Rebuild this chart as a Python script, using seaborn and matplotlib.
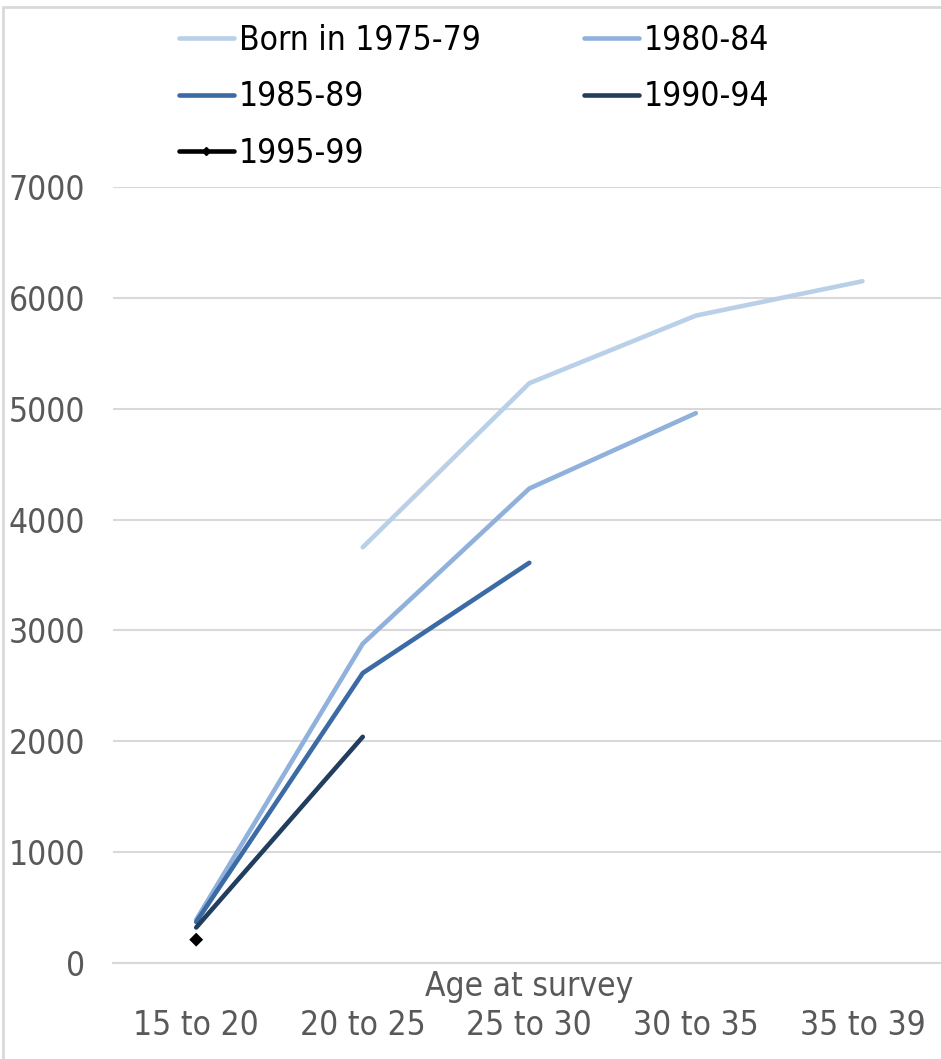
import matplotlib
matplotlib.use("Agg")
import matplotlib.pyplot as plt
from matplotlib.lines import Line2D
from matplotlib.patches import Rectangle
import seaborn as sns
import pandas as pd

ages = ["15 to 20", "20 to 25", "25 to 30", "30 to 35", "35 to 39"]
cohorts = ["Born in 1975-79", "1980-84", "1985-89", "1990-94", "1995-99"]

born_1975_79 = [None, 3750, 5230, 5840, 6150]
born_1980_84 = [390, 2880, 4280, 4960, None]
born_1985_89 = [370, 2615, 3610, None, None]
born_1990_94 = [320, 2040, None, None, None]
born_1995_99 = [210, None, None, None, None]

colors = ["#b9d0e8", "#8fb1db", "#3b6aa4", "#213e5f", "#000000"]

series = [born_1975_79, born_1980_84, born_1985_89, born_1990_94, born_1995_99]
rows = []
for name, vals in zip(cohorts, series):
    for i, v in enumerate(vals):
        if v is not None:
            rows.append({"cohort": name, "pos": i, "value": v})
df = pd.DataFrame(rows)

sns.set_theme(style="white")
plt.rcParams["font.family"] = ["DejaVu Sans"]
plt.rcParams["font.stretch"] = "condensed"

FS = 24

fig = plt.figure(figsize=(9.41, 10.59), dpi=100)
ax = fig.add_axes([0.12, 0.0907, 0.885, 0.7327])

palette = dict(zip(cohorts, colors))
lines_df = df[df["cohort"] != "1995-99"]
sns.lineplot(data=lines_df, x="pos", y="value", hue="cohort", palette=palette,
             hue_order=cohorts[:4], linewidth=3.3, legend=False, ax=ax,
             solid_capstyle="round")
pts = df[df["cohort"] == "1995-99"]
sns.scatterplot(data=pts, x="pos", y="value", color=colors[4], marker="D",
                s=50, edgecolor="none", legend=False, ax=ax, zorder=5)

ax.set_xlim(-0.5, 4.5)
ax.set_ylim(0, 7000)
ax.set_yticks(range(0, 7001, 1000))
ax.set_yticklabels([str(v) for v in range(0, 7001, 1000)])
ax.set_xticks(range(len(ages)))
ax.set_xticklabels(ages)
ax.yaxis.grid(True, color="#d9d9d9", linewidth=1.5)
ax.set_axisbelow(True)
for s in ["top", "right", "left"]:
    ax.spines[s].set_visible(False)
ax.spines["bottom"].set_color("#d9d9d9")
ax.spines["bottom"].set_linewidth(1.5)
ax.tick_params(axis="both", length=0, labelsize=FS, labelcolor="#595959")
ax.tick_params(axis="y", pad=20)
ax.tick_params(axis="x", pad=33)
ax.set_xlabel("")
ax.set_ylabel("")
ax.text(0.5, -0.03, "Age at survey", transform=ax.transAxes, ha="center",
        va="center", fontsize=FS, color="#595959")

handles = {}
for name, c in zip(cohorts, colors):
    if name == "1995-99":
        handles[name] = Line2D([], [], color=c, linewidth=3.3, marker="D", markersize=4)
    else:
        handles[name] = Line2D([], [], color=c, linewidth=3.3, solid_capstyle="round")
# legend fills column by column; order entries so they read across rows
order = [cohorts[0], cohorts[2], cohorts[4], cohorts[1], cohorts[3]]
fig.legend([handles[n] for n in order], order, ncol=2, loc="upper left",
           bbox_to_anchor=(0.1703, 0.9945), frameon=False, fontsize=FS,
           handlelength=1.65, handletextpad=0.15, columnspacing=3.1,
           labelspacing=0.7, borderaxespad=0.15, labelcolor="#000000")

fig.patches.append(Rectangle((0.003, -0.01), 1.1, 1.003, transform=fig.transFigure,
                             fill=False, edgecolor="#d9d9d9", linewidth=2))

fig.savefig("out.png", dpi=100)
